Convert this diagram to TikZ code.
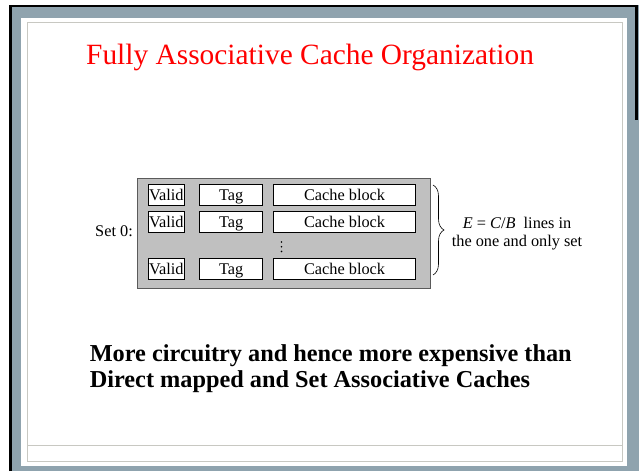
\documentclass[tikz,border=0pt]{standalone}
\usepackage{fontspec}
\setmainfont{Liberation Serif}
\usetikzlibrary{decorations.pathreplacing}
\definecolor{framebg}{RGB}{143,163,174}
\definecolor{panelline}{RGB}{200,200,194}
\definecolor{setgray}{RGB}{192,192,192}
\definecolor{setedge}{RGB}{90,90,90}
\definecolor{titlered}{RGB}{255,0,0}
\begin{document}
\begin{tikzpicture}[x=1pt,y=-1pt,
  cell/.style={draw=black,fill=white,line width=0.8pt,inner sep=0pt,minimum height=21pt,text height=14pt,text depth=3.2pt,font=\fontsize{16.3}{18}\selectfont},
  label/.style={inner sep=0pt,font=\fontsize{16.3}{18}\selectfont},
  dotmark/.style={fill=black,inner sep=0pt,minimum size=1.8pt,circle}]
\useasboundingbox (0,0) rectangle (639,471);
\fill[white] (0,0) rectangle (639,471);
% slide frame
\fill[framebg] (10,5) rectangle (639,471);
\draw[black,line width=2.4pt] (10.5,471) -- (10.5,5.8) -- (636.5,5.8) -- (636.5,120);
\fill[white] (21,18) rectangle (627,466);
\draw[panelline,line width=0.8pt] (27,22.5) rectangle (622,461);
\draw[panelline,line width=0.8pt] (27,445) -- (622,445);
% title
\node[anchor=base west,inner sep=0pt,text=titlered,font=\fontsize{29.4}{34}\selectfont] (title) at (86,64) {Fully Associative Cache Organization};
% set box
\node[draw=setedge,fill=setgray,line width=0.9pt,inner sep=0pt,minimum width=293pt,minimum height=110pt,anchor=north west] (set) at (137,178) {};
% row 1
\node[cell,minimum width=36.6pt,anchor=north west] (v1) at (147.7,184) {Valid};
\node[cell,minimum width=63pt,anchor=north west] (t1) at (199.3,184) {Tag};
\node[cell,minimum width=141.7pt,anchor=north west] (c1) at (273.3,184) {Cache block};
% row 2
\node[cell,minimum width=36.6pt,anchor=north west] (v2) at (147.7,210.7) {Valid};
\node[cell,minimum width=63pt,anchor=north west] (t2) at (199.3,210.7) {Tag};
\node[cell,minimum width=141.7pt,anchor=north west] (c2) at (273.3,210.7) {Cache block};
% row 3
\node[cell,minimum width=36.6pt,anchor=north west] (v3) at (147.7,257.7) {Valid};
\node[cell,minimum width=63pt,anchor=north west] (t3) at (199.3,257.7) {Tag};
\node[cell,minimum width=141.7pt,anchor=north west] (c3) at (273.3,257.7) {Cache block};
% vertical dots
\node[dotmark] (d1) at (281.5,242) {};
\node[dotmark] (d2) at (281.5,246.7) {};
\node[dotmark] (d3) at (281.5,251.4) {};
% set label
\node[label,anchor=base west] (setlbl) at (95,236.5) {Set 0:};
% brace
\coordinate (bt) at (433,185);
\coordinate (bb) at (433,275);
\draw[line width=0.6pt,decorate,decoration={brace,amplitude=11pt}] (bt) -- (bb);
\node[label,anchor=base] (br1) at (517,228) {\textit{E} = \textit{C}/\textit{B}\ \ lines in};
\node[label,anchor=base] (br2) at (517,246) {the one and only set};
% bottom text
\node[anchor=base west,inner sep=0pt,font=\fontsize{24.3}{26}\selectfont\bfseries] (b1) at (89.6,361) {More circuitry and hence more expensive than};
\node[anchor=base west,inner sep=0pt,font=\fontsize{24.3}{26}\selectfont\bfseries] (b2) at (89.6,387) {Direct mapped and Set Associative Caches};
\end{tikzpicture}
\end{document}
